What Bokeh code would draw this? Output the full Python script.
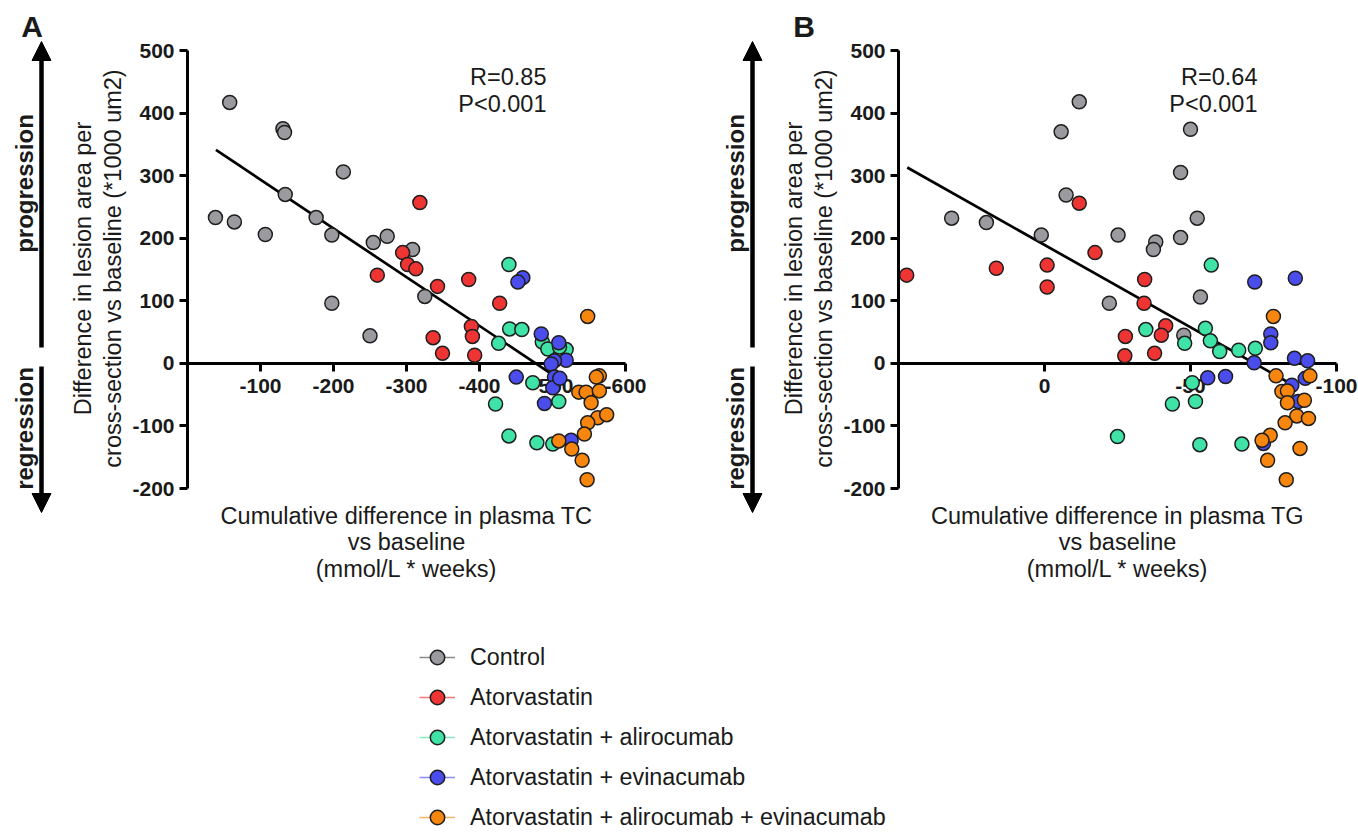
from math import pi
import numpy as np
from bokeh.plotting import figure
from bokeh.models import (Range1d, FixedTicker, Label, Arrow, NormalHead,
                          Legend, LegendItem, LinearAxis, PrintfTickFormatter)
from bokeh.embed import file_html
from bokeh.resources import INLINE

# ---------------- data ----------------
groups = ["Control", "Atorvastatin", "Atorvastatin + alirocumab",
          "Atorvastatin + evinacumab", "Atorvastatin + alirocumab + evinacumab"]
colors = ["#9b9b9f", "#ef3434", "#3fe3a6", "#4a4cec", "#f7860f"]
legend_line_colors = ["#8a8a8a", "#f07a7a", "#8de8c4", "#8a8cf0", "#f5b466"]

# Panel A: cumulative difference in plasma TC vs lesion difference
ctrl_tc = [-57.8, -130.7, -132.9, -213.5, -133.9, -38.3, -64.2, -106.6, -176.2,
           -197.7, -254.5, -273.6, -308.3, -197.7, -250.0, -325.1]
ctrl_lesion_tc = [417, 375, 369, 306, 270, 233, 226, 206, 233, 205, 193, 203,
                  182, 96, 44, 107]
ator_tc = [-318.3, -294.7, -301.5, -312.8, -260.0, -342.5, -336.5, -349.3,
           -385.2, -388.9, -390.3, -393.4, -427.6]
ator_lesion_tc = [257, 177, 158, 151, 141, 123, 41, 16, 134, 59, 43, 13, 96]
alir_tc = [-440.3, -441.3, -458.0, -426.2, -422.0, -440.3, -478.6, -500.4,
           -473.0, -508.6, -486.0, -493.6, -518.7, -509.6]
alir_lesion_tc = [158, 55, 54, 32, -65, -116, -127, -129, -31, -61, 34, 23, 22, 26]
evin_tc = [-459.4, -452.6, -484.6, -508.6, -518.7, -502.7, -498.2, -450.4,
           -502.7, -500.4, -489.0, -525.5, -510.0]
evin_lesion_tc = [137, 130, 47, 33, 5, 4, -1, -22, -22, -39, -64, -123, -24]
triple_tc = [-548.2, -564.2, -560.0, -536.0, -546.0, -564.2, -552.9, -561.9,
             -574.2, -548.2, -543.7, -508.6, -526.4, -540.6, -547.4]
triple_lesion_tc = [75, -20, -22, -46, -46, -44, -63, -87, -82, -95, -113, -124,
                    -137, -155, -186]

# Panel B: cumulative difference in plasma TG vs lesion difference
ctrl_tg = [-11.9, -5.7, -50.0, -46.6, -7.4, 31.8, 19.9, 1.1, -25.2, -38.1, -37.3,
           -46.6, -52.3, -22.2, -53.4, -47.7]
ctrl_lesion_tg = [418, 370, 374, 305, 269, 232, 225, 205, 205, 194, 182, 201,
                  232, 96, 106, 45]
ator_tg = [-11.9, 47.2, 16.5, -0.9, -0.9, -17.3, -34.3, -34.1, -27.7, -41.5,
           -40.0, -27.5, -37.7]
ator_lesion_tg = [256, 141, 152, 157, 122, 177, 134, 96, 43, 60, 45, 12, 16]
alir_tg = [-57.1, -34.7, -48.0, -55.1, -56.8, -60.0, -66.5, -72.2, -50.6, -51.7,
           -43.8, -25.0, -53.2, -67.6]
alir_lesion_tg = [157, 54, 32, 56, 36, 19, 21, 24, -31, -61, -65, -117, -130, -129]
evin_tg = [-72.0, -85.9, -77.5, -77.5, -71.8, -85.6, -90.1, -55.9, -62.0, -89.3,
           -84.7, -86.9, -75.0]
evin_lesion_tg = [130, 136, 47, 33, 1, 8, 4, -23, -21, -24, -35, -61, -128]
triple_tg = [-78.4, -79.3, -90.9, -81.3, -83.2, -83.2, -89.0, -86.4, -90.4,
             -82.4, -77.3, -74.5, -87.5, -76.4, -82.8]
triple_lesion_tg = [75, -20, -20, -45, -44, -63, -59, -84, -88, -95, -115, -123,
                    -136, -155, -186]

# regression lines (end points)
fit_tc_x = [-39, -500]
fit_tc_y = [341, -18]
fit_tg_x = [47, -86]
fit_tg_y = [313, -37]

y_ticks = [-200, -100, 0, 100, 200, 300, 400, 500]
tc_ticks = [-100, -200, -300, -400, -500, -600]
tg_ticks = [0, -50, -100]
tc_range = (0, -600)
tg_range = (50, -100)
y_range = (-200, 500)

stats_tc = ["R=0.85", "P<0.001"]
stats_tg = ["R=0.64", "P<0.001"]
y_title = ["Difference in lesion area per", "cross-section vs baseline (*1000 um2)"]
x_title_tc = ["Cumulative difference in plasma TC", "vs baseline", "(mmol/L * weeks)"]
x_title_tg = ["Cumulative difference in plasma TG", "vs baseline", "(mmol/L * weeks)"]

# ---------------- layout / style ----------------
FONT = "Liberation Sans"
INK = "#1a1a1a"
W, H = 1358, 835
FR = 438                 # size of each plotting box in pixels
A_LEFT, B_LEFT, TOPY = 187, 898, 50


def a_x(px):
    return tc_range[0] + (px - A_LEFT) / FR * (tc_range[1] - tc_range[0])


def b_x(px):
    return tg_range[0] + (px - B_LEFT) / FR * (tg_range[1] - tg_range[0])


def y_of(py):
    return y_range[1] - (py - TOPY) / FR * (y_range[1] - y_range[0])


p = figure(width=W, height=H, min_border=0,
           x_range=Range1d(a_x(0), a_x(W)), y_range=Range1d(y_of(H), y_of(0)),
           x_axis_location=None, y_axis_location=None,
           output_backend="svg", toolbar_location=None)
p.extra_x_ranges = {"tg": Range1d(b_x(0), b_x(W))}
p.outline_line_color = None
p.grid.visible = False


def style_axis(ax):
    ax.axis_line_width = 3
    ax.axis_line_color = "black"
    ax.major_tick_line_width = 3
    ax.major_tick_line_color = "black"
    ax.major_tick_out = 8
    ax.major_tick_in = 0
    ax.minor_tick_line_color = None
    ax.major_label_text_font = FONT
    ax.major_label_text_font_style = "bold"
    ax.major_label_text_font_size = "21px"
    ax.major_label_text_color = INK
    ax.formatter = PrintfTickFormatter(format="%d")


for rng_name, xr, xticks in (("default", tc_range, tc_ticks),
                             ("tg", tg_range, tg_ticks)):
    xa = LinearAxis(x_range_name=rng_name, fixed_location=0,
                    bounds=(min(xr), max(xr)), ticker=FixedTicker(ticks=xticks),
                    major_label_standoff=8)
    style_axis(xa)
    xa.level = "underlay"
    p.add_layout(xa, "below")
    ya = LinearAxis(x_range_name=rng_name, fixed_location=xr[0],
                    bounds=(min(y_range), max(y_range)),
                    ticker=FixedTicker(ticks=y_ticks), major_label_standoff=5)
    style_axis(ya)
    p.add_layout(ya, "left")

# regression lines and points
p.line(fit_tc_x, fit_tc_y, line_color="black", line_width=2.7)
p.line(fit_tg_x, fit_tg_y, line_color="black", line_width=2.7, x_range_name="tg")

a_sets = [(ctrl_tc, ctrl_lesion_tc), (ator_tc, ator_lesion_tc),
          (alir_tc, alir_lesion_tc), (evin_tc, evin_lesion_tc),
          (triple_tc, triple_lesion_tc)]
b_sets = [(ctrl_tg, ctrl_lesion_tg), (ator_tg, ator_lesion_tg),
          (alir_tg, alir_lesion_tg), (evin_tg, evin_lesion_tg),
          (triple_tg, triple_lesion_tg)]
a_renderers = []
for (xs, ys), c in zip(a_sets, colors):
    a_renderers.append(p.scatter(xs, ys, size=14, fill_color=c,
                                 line_color="#1e1e1e", line_width=1.5))
for (xs, ys), c in zip(b_sets, colors):
    p.scatter(xs, ys, size=14, fill_color=c, line_color="#1e1e1e",
              line_width=1.5, x_range_name="tg")


def lab(px, py, text, size, style="normal", align="center", angle=0):
    p.add_layout(Label(x=a_x(px), y=y_of(py), text=text, angle=angle,
                       text_font=FONT, text_font_size=size,
                       text_font_style=style, text_color=INK,
                       text_align=align, text_baseline="middle"))


def arrow(px, py0, py1):
    p.add_layout(Arrow(end=NormalHead(size=19, fill_color="black",
                                      line_color="black", line_width=1),
                       x_start=a_x(px), y_start=y_of(py0),
                       x_end=a_x(px), y_end=y_of(py1),
                       line_width=4.5, line_color="black"))


for left, letter, letter_x, stats, xtitle in (
        (A_LEFT, "A", 31.5, stats_tc, x_title_tc),
        (B_LEFT, "B", 803.5, stats_tg, x_title_tg)):
    lab(letter_x, 26, letter, "30px", "bold")
    arrow(left - 146, 347, 41)
    arrow(left - 146, 366, 512)
    lab(left - 163, 183, "progression", "24px", "bold", angle=pi / 2)
    lab(left - 163, 428, "regression", "24px", "bold", angle=pi / 2)
    lab(left - 105, 268, y_title[0], "23.5px", angle=pi / 2)
    lab(left - 75, 268, y_title[1], "23.5px", angle=pi / 2)
    for py, t in zip([515, 541, 568], xtitle):
        lab(left + FR / 2, py, t, "23.5px")
    lab(left + 359, 76, stats[0], "23.5px", align="right")
    lab(left + 359, 103, stats[1], "23.5px", align="right")

# ---------------- legend ----------------
items = []
for g, lc, r in zip(groups, legend_line_colors, a_renderers):
    proxy = p.line(np.array([np.nan]), np.array([np.nan]), line_color=lc,
                   line_width=1.6)
    items.append(LegendItem(label=g, renderers=[proxy, r]))
GLYPH_H, SPACING, N = 38, 2, len(groups)
leg_h = N * GLYPH_H + (N - 1) * SPACING
legend = Legend(items=items, location=(419, H - 638 - leg_h),
                orientation="vertical", glyph_width=36, glyph_height=GLYPH_H,
                spacing=SPACING, padding=0, margin=0, label_standoff=15,
                label_text_font=FONT, label_text_font_size="23.3px",
                label_text_color=INK, border_line_color=None,
                background_fill_alpha=0, inactive_fill_alpha=0)
p.add_layout(legend)

open("out.html", "w").write(file_html(p, INLINE))
